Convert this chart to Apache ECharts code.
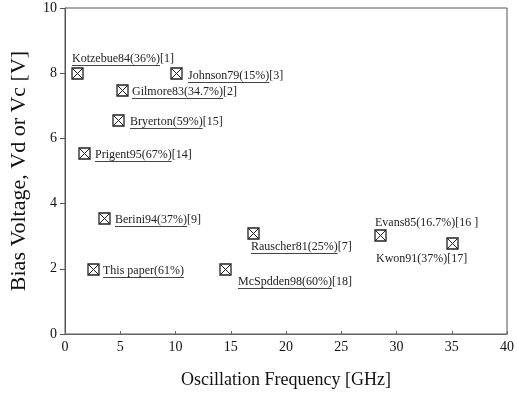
<!DOCTYPE html>
<html>
<head>
<meta charset="utf-8">
<script src="https://cdn.jsdelivr.net/npm/echarts@6/dist/echarts.min.js"></script>
<style>
  html, body { margin: 0; padding: 0; background: #fff; }
  #chart { width: 517px; height: 396px; }
</style>
</head>
<body>
<div id="chart"></div>
<script>
// Reported oscillators: name (efficiency), reference, frequency [GHz], bias voltage [V]
const names = ['Kotzebue84(36%)', 'Johnson79(15%)', 'Gilmore83(34.7%)', 'Bryerton(59%)',
  'Prigent95(67%)', 'Berini94(37%)', 'This paper(61%)', 'McSpdden98(60%)',
  'Rauscher81(25%)', 'Evans85(16.7%)', 'Kwon91(37%)'];
const refs = ['[1]', '[3]', '[2]', '[15]', '[14]', '[9]', '', '[18]', '[7]', '[16 ]', '[17]'];
const frequency = [1.1, 10.0, 5.2, 4.8, 1.7, 3.5, 2.5, 14.5, 17.0, 28.5, 35.0];
const voltage = [8.0, 8.0, 7.5, 6.55, 5.55, 3.55, 2.0, 2.0, 3.1, 3.05, 2.8];
const underlined = [true, true, true, true, true, true, true, true, true, false, false];

// Axis ticks
const xTicks = [0, 5, 10, 15, 20, 25, 30, 35, 40];
const yTicks = [0, 2, 4, 6, 8, 10];

// Where each label sits relative to its marker (px): [dx, dy] of the text's left-middle point
const labelOffsets = [[-6, -15], [11, 2], [9, 1], [11, 1], [10, 1], [10, 1], [9, 1],
  [12, 12], [-3, 13], [-6, -13], [-77, 15]];

const FONT_SERIF = "'Liberation Serif', 'DejaVu Serif', serif";
const LABEL_FONT = '12px ' + FONT_SERIF;

const measureCtx = document.createElement('canvas').getContext('2d');
function textWidth(str) {
  measureCtx.font = LABEL_FONT;
  return measureCtx.measureText(str).width;
}

const chart = echarts.init(document.getElementById('chart'), null, { renderer: 'canvas' });

const points = frequency.map((f, i) => [f, voltage[i]]);

chart.setOption({
  backgroundColor: '#fff',
  animation: false,
  grid: {
    left: 64, right: 6, top: 8, bottom: 62,
    show: true, borderColor: '#555', borderWidth: 1, backgroundColor: 'transparent'
  },
  xAxis: {
    type: 'value',
    min: xTicks[0], max: xTicks[xTicks.length - 1], interval: 5,
    name: 'Oscillation Frequency [GHz]',
    nameLocation: 'middle', nameGap: 37,
    nameTextStyle: { fontFamily: FONT_SERIF, fontSize: 18, color: '#111' },
    axisLine: { show: true, lineStyle: { color: '#666', width: 1 } },
    axisTick: { show: true, inside: true, length: 3, lineStyle: { color: '#666' } },
    axisLabel: { fontFamily: FONT_SERIF, fontSize: 14, color: '#111', margin: 6 },
    splitLine: { show: false }
  },
  yAxis: {
    type: 'value',
    min: yTicks[0], max: yTicks[yTicks.length - 1], interval: 2,
    name: 'Bias Voltage, Vd or Vc [V]',
    nameLocation: 'middle', nameGap: 35, nameRotate: 90,
    nameTextStyle: { fontFamily: FONT_SERIF, fontSize: 22, color: '#111' },
    axisLine: { show: true, lineStyle: { color: '#555', width: 1 } },
    axisTick: { show: true, inside: false, length: 5, lineStyle: { color: '#555' } },
    axisLabel: { fontFamily: FONT_SERIF, fontSize: 14, color: '#111', margin: 8 },
    splitLine: { show: false }
  },
  series: [{
    type: 'custom',
    coordinateSystem: 'cartesian2d',
    data: points,
    clip: false,
    renderItem: function (params, api) {
      const i = params.dataIndex;
      const p = api.coord([api.value(0), api.value(1)]);
      const cx = Math.round(p[0]) + 0.5;
      const cy = Math.round(p[1]) + 0.5;
      const h = 5.5;
      const off = labelOffsets[i];
      const tx = Math.round(cx + off[0]);
      const ty = Math.round(cy + off[1]);
      const w = textWidth(names[i]);
      const children = [
        { type: 'rect', shape: { x: cx - h, y: cy - h, width: 2 * h, height: 2 * h },
          style: { fill: '#fff', stroke: '#222', lineWidth: 1.3 } },
        { type: 'line', shape: { x1: cx - h, y1: cy - h, x2: cx + h, y2: cy + h },
          style: { stroke: '#222', lineWidth: 1 } },
        { type: 'line', shape: { x1: cx + h, y1: cy - h, x2: cx - h, y2: cy + h },
          style: { stroke: '#222', lineWidth: 1 } },
        { type: 'text', style: { x: tx, y: ty, text: names[i], font: LABEL_FONT,
          fill: '#222', verticalAlign: 'middle', align: 'left' } },
        { type: 'text', style: { x: tx + w, y: ty, text: refs[i], font: LABEL_FONT,
          fill: '#222', verticalAlign: 'middle', align: 'left' } }
      ];
      if (underlined[i]) {
        children.push({ type: 'line',
          shape: { x1: tx, y1: ty + 6.5, x2: tx + w, y2: ty + 6.5 },
          style: { stroke: '#444', lineWidth: 1 } });
      }
      return { type: 'group', children: children };
    }
  }]
});
</script>
</body>
</html>
